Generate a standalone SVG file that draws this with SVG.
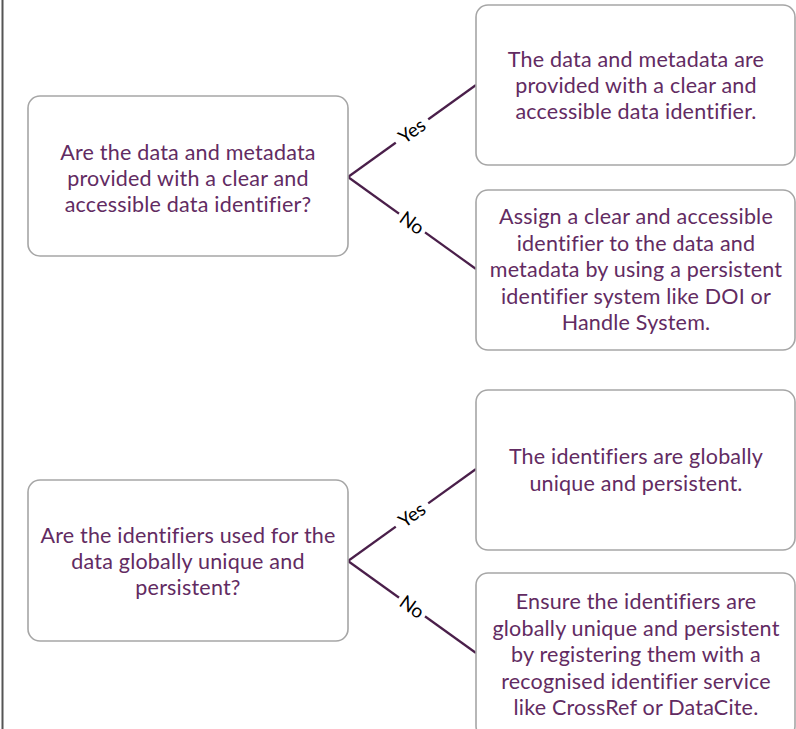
<svg xmlns="http://www.w3.org/2000/svg" width="796" height="729" viewBox="0 0 796 729">
<style>
.box{fill:#fff;stroke:#a6a6a6;stroke-width:1.6}
.t{font-family:Lato,"Liberation Sans",sans-serif;font-size:21.5px;fill:#622b62;text-anchor:middle;font-variant-ligatures:none;letter-spacing:0.2px}
.c{stroke:#4a1f4a;stroke-width:2.2;fill:none}
.lbl{font-family:Lato,"Liberation Sans",sans-serif;font-size:19px;fill:#000;text-anchor:middle}
.bg{fill:#fff}
</style>
<rect width="796" height="729" fill="#fff"/>
<line x1="2.5" y1="0" x2="2.5" y2="729" stroke="#555" stroke-width="2"/>
<g id="connectors">
<line class="c" x1="348" y1="177" x2="476" y2="85"/>
<line class="c" x1="348" y1="177" x2="476" y2="269"/>
<line class="c" x1="348" y1="561" x2="476" y2="469"/>
<line class="c" x1="348" y1="561" x2="476" y2="653"/>
<g transform="translate(412,131) rotate(-35.7)"><rect class="bg" x="-20" y="-11" width="40" height="22"/><text class="lbl" y="6.5">Yes</text></g>
<g transform="translate(412,223) rotate(35.7)"><rect class="bg" x="-16" y="-11" width="32" height="22"/><text class="lbl" y="6.5">No</text></g>
<g transform="translate(412,515) rotate(-35.7)"><rect class="bg" x="-20" y="-11" width="40" height="22"/><text class="lbl" y="6.5">Yes</text></g>
<g transform="translate(412,607) rotate(35.7)"><rect class="bg" x="-16" y="-11" width="32" height="22"/><text class="lbl" y="6.5">No</text></g>
</g>
<g id="q1">
<rect class="box" x="28" y="96" width="320" height="160" rx="12"/>
<text class="t" x="188" y="160">Are the data and metadata</text>
<text class="t" x="188" y="186">provided with a clear and</text>
<text class="t" x="188" y="212">accessible data identifier?</text>
</g>
<g id="q1yes">
<rect class="box" x="476" y="5" width="319" height="160" rx="12"/>
<text class="t" x="636" y="67">The data and metadata are</text>
<text class="t" x="636" y="93">provided with a clear and</text>
<text class="t" x="636" y="119">accessible data identifier.</text>
</g>
<g id="q1no">
<rect class="box" x="476" y="190" width="319" height="160" rx="12"/>
<text class="t" x="636" y="224">Assign a clear and accessible</text>
<text class="t" x="636" y="250.5">identifier to the data and</text>
<text class="t" x="636" y="277">metadata by using a persistent</text>
<text class="t" x="636" y="303.5">identifier system like DOI or</text>
<text class="t" x="636" y="330">Handle System.</text>
</g>
<g id="q2">
<rect class="box" x="28" y="480" width="320" height="161" rx="12"/>
<text class="t" x="188" y="543">Are the identifiers used for the</text>
<text class="t" x="188" y="569">data globally unique and</text>
<text class="t" x="188" y="595">persistent?</text>
</g>
<g id="q2yes">
<rect class="box" x="476" y="390" width="319" height="160" rx="12"/>
<text class="t" x="636" y="464">The identifiers are globally</text>
<text class="t" x="636" y="491">unique and persistent.</text>
</g>
<g id="q2no">
<rect class="box" x="476" y="573" width="319" height="165" rx="12"/>
<text class="t" x="636" y="609">Ensure the identifiers are</text>
<text class="t" x="636" y="635.5">globally unique and persistent</text>
<text class="t" x="636" y="662">by registering them with a</text>
<text class="t" x="636" y="688.5">recognised identifier service</text>
<text class="t" x="636" y="715">like CrossRef or DataCite.</text>
</g>
</svg>
